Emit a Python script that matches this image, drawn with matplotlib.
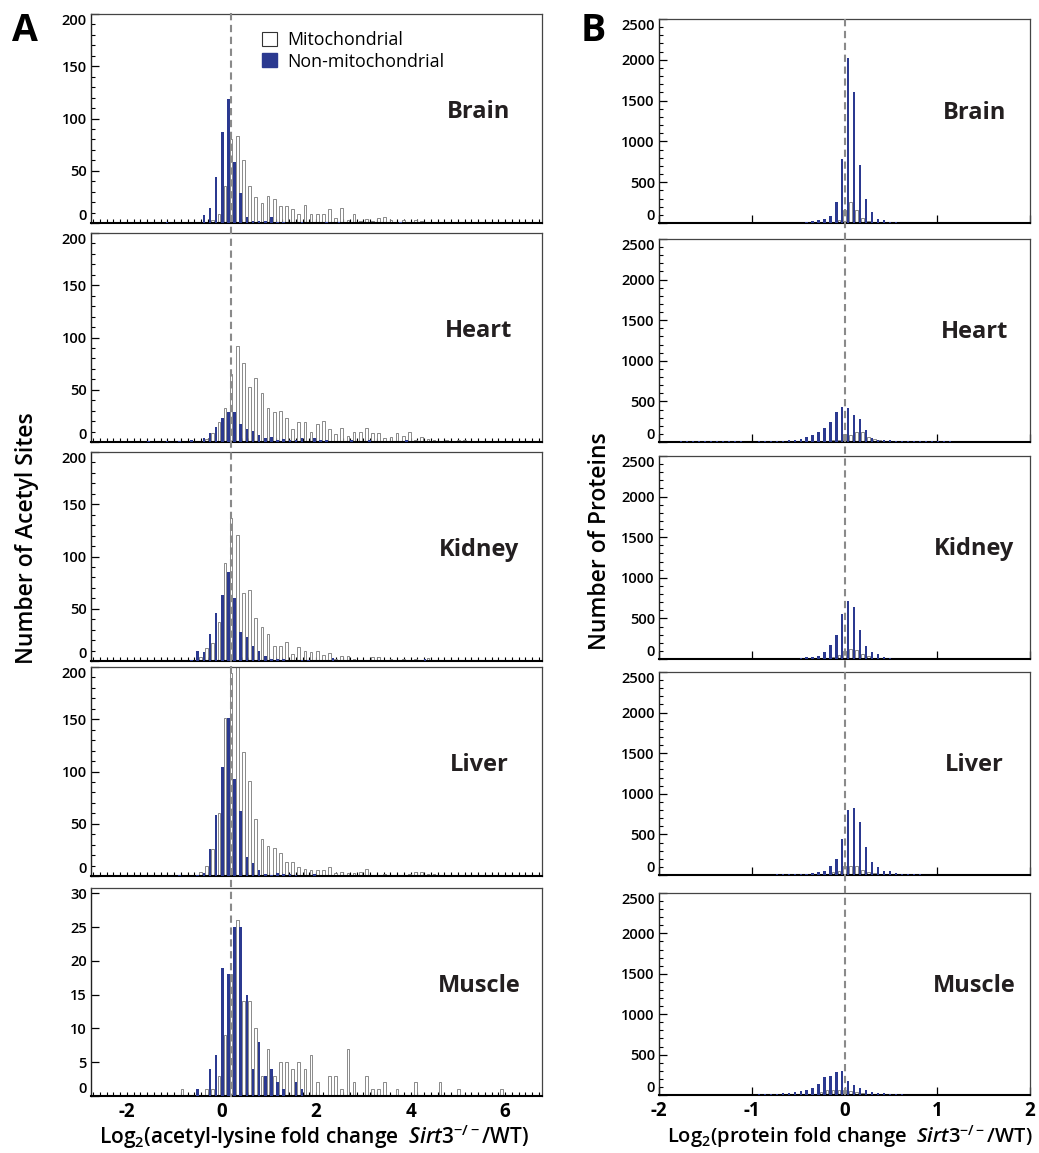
import numpy as np
import matplotlib.pyplot as plt
import matplotlib.transforms as mtransforms
from matplotlib.patches import Patch
from matplotlib.lines import Line2D
from matplotlib.ticker import MultipleLocator, NullLocator

plt.rcParams['font.family'] = ['Open Sans', 'DejaVu Sans']
plt.rcParams['axes.unicode_minus'] = False
plt.rcParams['mathtext.fontset'] = 'custom'
plt.rcParams['mathtext.rm'] = 'Open Sans:semibold'
plt.rcParams['mathtext.it'] = 'Open Sans:semibold:italic'
plt.rcParams['mathtext.bf'] = 'Open Sans:bold'

tissues = ['Brain', 'Heart', 'Kidney', 'Liver', 'Muscle']

# --- A: acetyl sites per bin (first value = bin k=-14) ---
acetyl_first_bin = -14
acetyl_bin_width = 0.13
acetyl_bin_origin = 0.176

brain_ac_nonmito = [0, 0, 0, 0, 1, 0, 0, 0, 0, 0, 8, 14, 44, 87, 119, 58, 29, 6, 2, 2,
                    2, 6, 1, 1, 0, 0, 1, 0, 0, 0, 1, 0, 1, 0, 0, 0, 0, 0, 0, 0, 0, 0, 1]
brain_ac_mito = [0, 0, 0, 0, 0, 0, 0, 0, 0, 0, 0, 3, 9, 35, 80, 83, 60, 35, 25, 19,
                 26, 23, 16, 16, 13, 9, 17, 9, 9, 9, 13, 5, 14, 3, 9, 2, 4, 2, 5, 6,
                 3, 1, 3, 1, 3, 2, 1, 1, 0, 0, 1]
heart_ac_nonmito = [0, 1, 0, 0, 1, 0, 1, 0, 2, 0, 4, 9, 14, 23, 29, 29, 17, 12, 11, 7,
                    4, 5, 2, 3, 2, 2, 4, 0, 4, 2, 2, 0, 0, 0, 2, 0, 0, 2, 0, 0, 0, 0, 0, 2]
heart_ac_mito = [0, 0, 0, 0, 0, 0, 0, 0, 1, 1, 3, 9, 19, 33, 65, 92, 76, 53, 61, 47,
                 33, 29, 30, 23, 12, 19, 19, 10, 17, 20, 12, 8, 13, 6, 10, 10, 13, 9, 9, 4,
                 5, 9, 6, 10, 2, 5, 3, 2, 1, 2, 1, 2, 2]
kidney_ac_nonmito = [0, 0, 0, 0, 0, 0, 0, 0, 1, 10, 9, 26, 46, 63, 85, 60, 28, 23, 14, 10,
                     5, 2, 2, 2, 0, 0, 1, 1, 0, 0, 0, 3, 0, 0, 0, 0, 0, 0, 0, 0,
                     0, 0, 0, 0, 0, 0, 2]
kidney_ac_mito = [0, 0, 0, 0, 0, 0, 0, 0, 0, 4, 12, 17, 37, 94, 137, 121, 65, 68, 41, 33,
                  26, 14, 14, 18, 7, 13, 10, 9, 10, 6, 8, 2, 5, 5, 2, 1, 1, 4, 4, 1,
                  2, 1, 2, 1, 2, 0, 3]
liver_ac_nonmito = [0, 0, 0, 0, 0, 0, 1, 0, 0, 1, 3, 26, 58, 104, 151, 93, 62, 18, 12, 6,
                    2, 1, 3, 2, 2, 1, 0, 0, 2]
liver_ac_mito = [0, 0, 0, 0, 0, 0, 0, 0, 0, 4, 10, 26, 60, 151, 194, 215, 119, 91, 55, 35,
                 29, 27, 22, 13, 13, 9, 7, 6, 6, 6, 9, 3, 4, 3, 3, 4, 7, 1, 1, 2,
                 1, 1, 1, 2, 4, 4, 2, 2, 0, 1]
muscle_ac_nonmito = [0, 0, 0, 0, 0, 0, 0, 0, 0, 1, 0, 4, 6, 19, 18, 25, 25, 15, 4, 8,
                     3, 4, 2, 1, 0, 2, 1]
muscle_ac_mito = [0, 0, 0, 0, 0, 0, 1, 0, 0, 0, 1, 1, 3, 9, 18, 26, 14, 14, 10, 3,
                  7, 3, 5, 5, 4, 5, 4, 6, 2, 0, 3, 3, 1, 7, 2, 0, 3, 1, 1, 2,
                  0, 1, 0, 0, 2, 0, 0, 0, 2, 0, 0, 1, 0, 0, 0, 0, 0, 0, 1]

# --- B: proteins per bin (first value = bin j=-28) ---
protein_first_bin = -28
protein_bin_width = 0.0643
protein_bin_origin = -0.011

brain_pr_nonmito = [0] * 22 + [12, 20, 33, 50, 82, 254, 780, 2016, 1600, 705, 300, 140, 50, 37, 12, 8]
brain_pr_mito = [0] * 26 + [15, 40, 160, 262, 164, 60, 30, 15]
heart_pr_nonmito = [0, 8, 8, 8, 8, 8, 8, 8, 8, 8, 8, 8, 0, 0,
                    10, 10, 10, 12, 15, 20, 28, 40, 57, 85, 118, 175, 248, 374, 427, 419,
                    333, 280, 150, 49, 28, 20, 20, 12, 8, 8, 8, 8, 8, 8, 8, 8, 8]
heart_pr_mito = [0] * 26 + [20, 28, 100, 90, 118, 118, 60, 40, 28]
kidney_pr_nonmito = [0] * 21 + [12, 20, 25, 41, 90, 172, 295, 556, 720, 646, 360, 164, 82, 61, 25, 12, 5]
kidney_pr_mito = [0] * 26 + [25, 50, 98, 123, 115, 65, 33, 12]
liver_pr_nonmito = [0] * 17 + [8, 8, 8, 8, 8, 8, 25, 33, 49, 106, 196, 440, 800, 820, 657, 343,
                               163, 98, 49, 49, 25, 16, 8, 8, 8]
liver_pr_mito = [0] * 26 + [33, 45, 114, 114, 106, 57, 33, 25]
muscle_pr_nonmito = [0] * 14 + [12, 12, 12, 12, 20, 25, 33, 49, 57, 90, 131, 221, 230, 287, 303,
                                168, 123, 82, 66, 41, 25, 20, 16, 12, 8, 6, 6, 6, 6, 6, 6, 6, 6]
muscle_pr_mito = [0] * 24 + [33, 57, 57, 57, 57, 49, 33, 25, 16]

acetyl_nonmito = [brain_ac_nonmito, heart_ac_nonmito, kidney_ac_nonmito, liver_ac_nonmito, muscle_ac_nonmito]
acetyl_mito = [brain_ac_mito, heart_ac_mito, kidney_ac_mito, liver_ac_mito, muscle_ac_mito]
protein_nonmito = [brain_pr_nonmito, heart_pr_nonmito, kidney_pr_nonmito, liver_pr_nonmito, muscle_pr_nonmito]
protein_mito = [brain_pr_mito, heart_pr_mito, kidney_pr_mito, liver_pr_mito, muscle_pr_mito]

acetyl_median = 0.2
protein_median = 0.0

BLUE = '#2b3990'
EDGE = '#777777'
DASH = '#8a8a8a'

W, H = 1039, 1153
fig = plt.figure(figsize=(W / 100, H / 100), dpi=100)


def add_axes_px(left, top, right, bottom):
    return fig.add_axes([left / W, 1 - bottom / H, (right - left) / W, (bottom - top) / H])


def bin_centers(values, first, width, origin):
    k = np.arange(len(values)) + first
    return origin + k * width


def draw_hist(ax, nonmito, mito, first, width, origin, bar_w, shift):
    nm = np.array(nonmito, dtype=float)
    mi = np.array(mito, dtype=float)
    xn = bin_centers(nm, first, width, origin)
    xm = bin_centers(mi, first, width, origin)
    ax.bar(xm[mi > 0] + shift, mi[mi > 0], bar_w, facecolor='white', edgecolor=EDGE,
           linewidth=0.6, zorder=2)
    ax.bar(xn[nm > 0] - shift, nm[nm > 0], bar_w, color=BLUE, linewidth=0, zorder=3)


def style_spines(ax):
    for side in ['top', 'right']:
        ax.spines[side].set_color('#444444')
        ax.spines[side].set_linewidth(0.9)
    ax.spines['left'].set_color('#222222')
    ax.spines['left'].set_linewidth(1.0)
    ax.spines['bottom'].set_color('black')
    ax.spines['bottom'].set_linewidth(1.5)


def style_yticklabels(ax, size, top_inside):
    # the end labels sit just inside the frame, as in the original figure
    lo, hi = ax.get_ylim()
    locs = ax.yaxis.get_majorticklocs()
    ticks = ax.yaxis.get_major_ticks(len(locs))
    for tick, loc in zip(ticks, locs):
        lab = tick.label1
        lab.set_fontsize(size)
        lab.set_fontweight('semibold')
        if abs(loc - lo) < 1e-6:
            lab.set_verticalalignment('bottom')
        elif top_inside and abs(loc - hi) < 1e-6:
            lab.set_verticalalignment('top')
        else:
            lab.set_verticalalignment('center_baseline')


rows_a = [(14, 223), (233, 442), (452, 661), (667, 876), (888, 1096)]
rows_b = [(19, 223), (239, 442), (456, 659), (672, 875), (893, 1095)]

axes_a, axes_b = [], []
for i, name in enumerate(tissues):
    # ---- panel A ----
    ax = add_axes_px(91, rows_a[i][0], 542, rows_a[i][1])
    draw_hist(ax, acetyl_nonmito[i], acetyl_mito[i], acetyl_first_bin,
              acetyl_bin_width, acetyl_bin_origin, 0.056, 0.029)
    ax.set_xlim(-2.76, 6.78)
    ax.xaxis.set_major_locator(MultipleLocator(2))
    ax.xaxis.set_minor_locator(MultipleLocator(1 / 7))
    ax.tick_params(axis='x', which='both', direction='in', length=3, width=0.8)
    if name == 'Muscle':
        ax.set_ylim(0, 30.8)
        ax.yaxis.set_major_locator(MultipleLocator(5))
        ax.yaxis.set_minor_locator(NullLocator())
    else:
        ax.set_ylim(0, 200)
        ax.yaxis.set_major_locator(MultipleLocator(50))
        ax.yaxis.set_minor_locator(MultipleLocator(10))
    ax.tick_params(axis='y', which='major', direction='in', length=6, width=0.9, pad=3)
    ax.tick_params(axis='y', which='minor', direction='in', length=3, width=0.8)
    style_yticklabels(ax, 10.5, name != 'Muscle')
    if name == 'Muscle':
        ax.tick_params(axis='x', labelsize=13.5, pad=4)
        for lab in ax.get_xticklabels():
            lab.set_fontweight('bold')
    else:
        ax.tick_params(axis='x', labelbottom=False)
    style_spines(ax)
    ax.text(0.86, 0.53, name, transform=ax.transAxes, fontsize=17, fontweight='bold',
            ha='center', va='center', color='#231f20')
    axes_a.append(ax)

    # ---- panel B ----
    ax = add_axes_px(659, rows_b[i][0], 1030, rows_b[i][1])
    draw_hist(ax, protein_nonmito[i], protein_mito[i], protein_first_bin,
              protein_bin_width, protein_bin_origin, 0.024, 0.012)
    ax.set_xlim(-2, 2)
    ax.set_ylim(0, 2500)
    ax.xaxis.set_major_locator(MultipleLocator(1))
    ax.yaxis.set_major_locator(MultipleLocator(500))
    ax.yaxis.set_minor_locator(MultipleLocator(100))
    ax.tick_params(axis='x', which='major', direction='in', length=6, width=0.9)
    ax.tick_params(axis='y', which='major', direction='in', length=6, width=0.9, pad=3)
    ax.tick_params(axis='y', which='minor', direction='in', length=3, width=0.8)
    style_yticklabels(ax, 10.5, True)
    if name == 'Muscle':
        ax.tick_params(axis='x', labelsize=13.5, pad=4)
        for lab in ax.get_xticklabels():
            lab.set_fontweight('bold')
    else:
        ax.tick_params(axis='x', labelbottom=False)
    style_spines(ax)
    ax.text(0.85, 0.54, name, transform=ax.transAxes, fontsize=17, fontweight='bold',
            ha='center', va='center', color='#231f20')
    axes_b.append(ax)

# dashed reference lines running through all five panels
for axs, xval, top, bottom in [(axes_a, acetyl_median, 13, 1097), (axes_b, protein_median, 19, 1096)]:
    trans = mtransforms.blended_transform_factory(axs[0].transData, fig.transFigure)
    fig.add_artist(Line2D([xval, xval], [1 - top / H, 1 - bottom / H], transform=trans,
                          color=DASH, lw=1.5, ls=(0, (3.5, 2.2)), zorder=5))

# legend
handles = [Patch(facecolor='white', edgecolor='#333333', linewidth=0.8, label='Mitochondrial'),
           Patch(facecolor=BLUE, edgecolor=BLUE, label='Non-mitochondrial')]
axes_a[0].legend(handles=handles, loc='upper left', bbox_to_anchor=(262 / W, 1 - 31 / H),
                 bbox_transform=fig.transFigure, frameon=False, fontsize=12.8,
                 handlelength=0.85, handleheight=0.85, handletextpad=0.55,
                 labelspacing=0.2, borderpad=0, borderaxespad=0)

# panel letters and axis titles
fig.text(25 / W, 1 - 31 / H, 'A', fontsize=27, fontweight='bold', ha='center', va='center')
fig.text(593 / W, 1 - 31 / H, 'B', fontsize=27, fontweight='bold', ha='center', va='center')
fig.text(27 / W, 1 - 538 / H, 'Number of Acetyl Sites', rotation=90, fontsize=16.5,
         fontweight='semibold', ha='center', va='center')
fig.text(600 / W, 1 - 541 / H, 'Number of Proteins', rotation=90, fontsize=16.5,
         fontweight='semibold', ha='center', va='center')
fig.text(314 / W, 1 - 1137 / H, r'Log$_2$(acetyl-lysine fold change  $\mathit{Sirt3}^{-/-}$/WT)',
         fontsize=15, fontweight='semibold', ha='center', va='center')
fig.text(850 / W, 1 - 1137 / H, r'Log$_2$(protein fold change  $\mathit{Sirt3}^{-/-}$/WT)',
         fontsize=14.5, fontweight='semibold', ha='center', va='center')

fig.savefig('out.png', dpi=100)
